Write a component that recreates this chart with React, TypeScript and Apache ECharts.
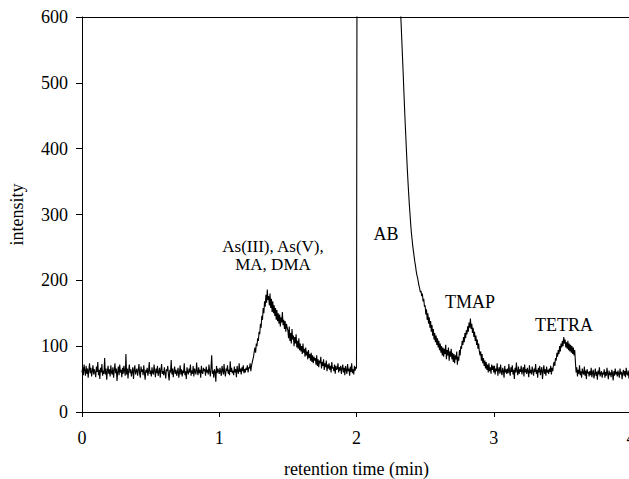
import React, { useEffect, useRef } from "react";
import * as echarts from "echarts";

// retention time sampling step (min)
const STEP = 0.005;

// intensity readings, one per 0.005 min, from 0.000 to 4.000 min (values > 600 are off-scale)
const intensity: number[] = [
  // 0.0
  60, 68, 56, 72, 63, 55, 70, 58, 66, 52, 64, 74, 59, 67, 54, 62, 71, 57, 65, 60,
  // 0.1
  53, 69, 61, 76, 56, 64, 50, 67, 60, 73, 55, 63, 58, 82, 57, 66, 49, 62, 70, 58,
  // 0.2
  65, 54, 71, 60, 57, 68, 52, 63, 74, 59, 66, 47, 61, 69, 56, 72, 60, 64, 53, 67,
  // 0.3
  58, 70, 62, 55, 88, 57, 66, 51, 63, 72, 59, 65, 54, 61, 68, 50, 64, 71, 57, 62,
  // 0.4
  66, 55, 63, 73, 58, 52, 69, 61, 65, 56, 71, 59, 49, 64, 60, 67, 55, 62, 76, 58,
  // 0.5
  63, 54, 68, 60, 57, 72, 62, 53, 66, 59, 70, 55, 61, 67, 52, 64, 73, 58, 62, 56,
  // 0.6
  68, 59, 51, 65, 62, 70, 56, 48, 64, 60, 79, 57, 66, 53, 62, 69, 58, 64, 55, 61,
  // 0.7
  67, 52, 60, 71, 57, 65, 54, 63, 59, 74, 56, 62, 50, 68, 61, 57, 66, 60, 72, 55,
  // 0.8
  63, 58, 70, 54, 66, 61, 57, 75, 62, 56, 68, 59, 64, 52, 70, 60, 58, 67, 62, 65,
  // 0.9
  55, 69, 60, 64, 57, 72, 62, 54, 67, 86, 58, 63, 52, 65, 61, 46, 70, 59, 66, 62,
  // 1.0
  58, 67, 61, 55, 70, 63, 57, 73, 60, 54, 66, 62, 71, 58, 64, 56, 77, 61, 67, 59,
  // 1.1
  63, 56, 69, 60, 65, 53, 70, 62, 58, 74, 61, 66, 57, 68, 62, 71, 59, 65, 60, 67,
  // 1.2
  64, 71, 60, 68, 66, 74, 62, 70, 75, 80, 84, 92, 98, 90, 104, 100, 112, 108, 122, 118,
  // 1.3
  134, 128, 146, 140, 158, 150, 168, 160, 178, 166, 186, 170, 176, 162, 180, 158, 172, 152, 168, 150,
  // 1.4
  162, 146, 158, 140, 155, 138, 150, 134, 148, 130, 144, 136, 152, 132, 140, 126, 138, 122, 134, 128,
  // 1.5
  124, 112, 130, 108, 120, 104, 126, 110, 116, 100, 114, 104, 118, 98, 108, 96, 112, 94, 104, 92,
  // 1.6
  100, 88, 104, 90, 96, 84, 98, 86, 92, 80, 94, 82, 88, 78, 90, 76, 86, 74, 84, 78,
  // 1.7
  82, 72, 86, 70, 80, 68, 78, 74, 84, 66, 76, 70, 80, 64, 74, 68, 78, 62, 72, 66,
  // 1.8
  74, 64, 70, 60, 76, 66, 68, 62, 72, 58, 70, 64, 66, 74, 60, 68, 63, 70, 58, 66,
  // 1.9
  72, 60, 67, 56, 70, 64, 58, 73, 62, 66, 55, 69, 61, 74, 59, 65, 57, 70, 63, 68,
  // 2.0
  66, 900, 1800, 2600, 3000, 3300, 3500, 3600, 3680, 3700, 3680, 3650, 3600, 3550, 3480, 3400, 3330, 3250, 3180, 3100,
  // 2.1
  3020, 2950, 2870, 2800, 2720, 2650, 2570, 2500, 2420, 2350, 2280, 2200, 2130, 2060, 2000, 1930, 1870, 1800, 1750, 1690,
  // 2.2
  1640, 1580, 1530, 1480, 1430, 1390, 1340, 1300, 1260, 1220, 1180, 1140, 1100, 1070, 1030, 1000, 970, 940, 910, 880,
  // 2.3
  800, 745, 695, 652, 615, 590, 565, 540, 515, 488, 462, 438, 415, 392, 370, 350, 332, 315, 300, 285,
  // 2.4
  272, 262, 252, 244, 236, 228, 222, 214, 208, 204, 198, 192, 188, 182, 184, 176, 180, 168, 172, 160,
  // 2.5
  162, 148, 156, 140, 150, 134, 144, 128, 138, 122, 132, 116, 126, 110, 120, 106, 116, 102, 112, 98,
  // 2.6
  108, 94, 104, 90, 100, 86, 98, 84, 96, 88, 102, 80, 94, 86, 98, 78, 92, 84, 96, 80,
  // 2.7
  90, 76, 88, 74, 86, 80, 92, 72, 84, 78, 94, 86, 100, 96, 108, 102, 114, 106, 120, 112,
  // 2.8
  124, 118, 130, 122, 136, 128, 142, 126, 134, 120, 128, 114, 122, 108, 116, 102, 110, 96, 104, 92,
  // 2.9
  86, 92, 78, 88, 74, 82, 70, 78, 66, 76, 64, 72, 60, 74, 62, 68, 58, 72, 64, 70,
  // 3.0
  60, 70, 57, 66, 62, 74, 55, 64, 68, 58, 72, 61, 56, 67, 63, 52, 70, 60, 65, 58,
  // 3.1
  66, 59, 73, 62, 55, 68, 61, 71, 57, 64, 50, 67, 60, 75, 62, 56, 69, 58, 65, 61,
  // 3.2
  70, 57, 63, 68, 54, 72, 60, 65, 58, 67, 62, 53, 71, 59, 64, 57, 69, 62, 55, 66,
  // 3.3
  61, 73, 58, 64, 52, 67, 60, 70, 56, 63, 68, 50, 62, 71, 58, 65, 55, 69, 60, 64,
  // 3.4
  58, 66, 61, 70, 57, 67, 62, 72, 76, 70, 82, 78, 90, 84, 94, 88, 100, 92, 104, 98,
  // 3.5
  108, 100, 114, 104, 110, 98, 106, 96, 108, 94, 104, 92, 102, 90, 100, 88, 98, 86, 94, 76,
  // 3.6
  60, 68, 54, 64, 58, 71, 56, 62, 52, 66, 60, 57, 69, 55, 63, 50, 65, 59, 61, 54,
  // 3.7
  62, 56, 67, 53, 60, 64, 51, 58, 66, 55, 61, 49, 63, 57, 68, 54, 59, 62, 52, 60,
  // 3.8
  57, 65, 52, 61, 55, 67, 58, 50, 63, 56, 60, 53, 64, 59, 48, 62, 55, 66, 57, 61,
  // 3.9
  54, 63, 58, 52, 66, 57, 61, 50, 59, 64, 55, 62, 53, 67, 58, 56, 63, 51, 60, 57,
  // 4.0
  59,
];

const retentionTime: number[] = intensity.map((_, i) => Math.round(i * STEP * 1000) / 1000);

const xTicks = [0, 1, 2, 3, 4];
const yTicks = [0, 100, 200, 300, 400, 500, 600];

const peakLabels = [
  { text: "As(III), As(V),\nMA, DMA", x: 273, y: 255, size: 17, lineHeight: 18 },
  { text: "AB", x: 386, y: 234, size: 18, lineHeight: 18 },
  { text: "TMAP", x: 470, y: 302, size: 18, lineHeight: 18 },
  { text: "TETRA", x: 564, y: 325, size: 18, lineHeight: 18 },
];

const FONT = "Liberation Serif, Times New Roman, serif";

export default function App() {
  const ref = useRef<HTMLDivElement>(null);

  useEffect(() => {
    if (!ref.current) return;
    const chart = echarts.init(ref.current, undefined, { renderer: "svg" });
    const axisLine = { show: true, lineStyle: { color: "#000", width: 1 } };
    chart.setOption({
      animation: false,
      backgroundColor: "#fff",
      grid: {
        left: 82,
        right: -2,
        top: 17,
        bottom: 67,
        containLabel: false,
        outerBoundsMode: "none",
      },
      xAxis: [
        {
          type: "value",
          min: xTicks[0],
          max: xTicks[xTicks.length - 1],
          interval: 1,
          name: "retention time (min)",
          nameLocation: "middle",
          nameGap: 48,
          nameTextStyle: { fontFamily: FONT, fontSize: 18, color: "#000" },
          axisLine: { ...axisLine, onZero: false },
          axisTick: { show: true, length: 5, inside: false, lineStyle: { color: "#000" } },
          axisLabel: { fontFamily: FONT, fontSize: 18, color: "#000", margin: 17, showMaxLabel: true },
          splitLine: { show: false },
        },
        {
          type: "value",
          position: "top",
          min: xTicks[0],
          max: xTicks[xTicks.length - 1],
          axisLine: { ...axisLine, onZero: false },
          axisTick: { show: false },
          axisLabel: { show: false },
          splitLine: { show: false },
        },
      ],
      yAxis: {
        type: "value",
        min: yTicks[0],
        max: yTicks[yTicks.length - 1],
        interval: 100,
        name: "intensity",
        nameLocation: "middle",
        nameGap: 56,
        nameTextStyle: { fontFamily: FONT, fontSize: 18, color: "#000" },
        axisLine: { ...axisLine, onZero: false },
        axisTick: { show: true, length: 6, lineStyle: { color: "#000" } },
        axisLabel: { fontFamily: FONT, fontSize: 18, color: "#000", margin: 14 },
        splitLine: { show: false },
      },
      series: [
        {
          type: "line",
          xAxisIndex: 0,
          data: retentionTime.map((t, i) => [t, intensity[i]]),
          showSymbol: false,
          symbol: "none",
          clip: true,
          lineStyle: { color: "#000", width: 1.1 },
        },
      ],
      graphic: peakLabels.map((l) => ({
        type: "text",
        x: l.x,
        y: l.y,
        style: {
          text: l.text,
          font: `${l.size}px ${FONT}`,
          lineHeight: l.lineHeight,
          fill: "#000",
          textAlign: "center",
          textVerticalAlign: "middle",
        },
      })),
    });
    return () => chart.dispose();
  }, []);

  return (
    <div
      ref={ref}
      style={{ position: "fixed", left: 0, top: 0, width: 629, height: 479, background: "#fff" }}
    />
  );
}
